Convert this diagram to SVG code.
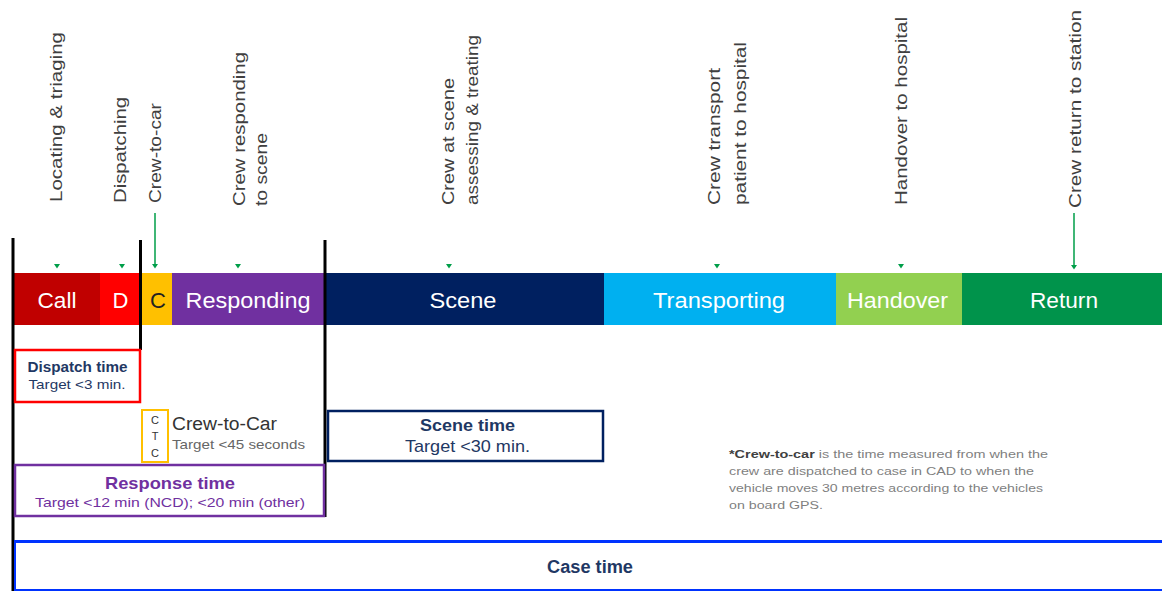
<svg xmlns="http://www.w3.org/2000/svg" width="1162" height="591" viewBox="0 0 1162 591">
<style>
  text { font-family: "Liberation Sans", Arial, sans-serif; }
  .lbl { font-size: 17px; fill: #404040; }
  .bar { font-size: 22px; fill: #ffffff; text-anchor: middle; }
  .mk { fill: #009e49; }
  .ln { stroke: #009e49; stroke-width: 1.5; fill: none; }
  .blk { stroke: #000; stroke-width: 3; }
  .box { fill: #fff; stroke-width: 2.5; }
  .ttl { font-weight: bold; text-anchor: middle; }
  .sub { text-anchor: middle; }
  .fn { font-size: 11.5px; fill: #7f7f7f; }
</style>
<rect width="1162" height="591" fill="#fff"/>

<g id="labels">
  <text class="lbl" transform="translate(62,202) rotate(-90)" textLength="170" lengthAdjust="spacingAndGlyphs">Locating &amp; triaging</text>
  <text class="lbl" transform="translate(126,203) rotate(-90)" textLength="106" lengthAdjust="spacingAndGlyphs">Dispatching</text>
  <text class="lbl" transform="translate(161,203) rotate(-90)" textLength="100" lengthAdjust="spacingAndGlyphs">Crew-to-car</text>
  <text class="lbl" transform="translate(245,206) rotate(-90)" textLength="154" lengthAdjust="spacingAndGlyphs">Crew responding</text>
  <text class="lbl" transform="translate(267,206) rotate(-90)" textLength="73" lengthAdjust="spacingAndGlyphs">to scene</text>
  <text class="lbl" transform="translate(454,205) rotate(-90)" textLength="127" lengthAdjust="spacingAndGlyphs">Crew at scene</text>
  <text class="lbl" transform="translate(478,205) rotate(-90)" textLength="170" lengthAdjust="spacingAndGlyphs">assessing &amp; treating</text>
  <text class="lbl" transform="translate(720,205) rotate(-90)" textLength="137" lengthAdjust="spacingAndGlyphs">Crew transport</text>
  <text class="lbl" transform="translate(746,205) rotate(-90)" textLength="163" lengthAdjust="spacingAndGlyphs">patient to hospital</text>
  <text class="lbl" transform="translate(907,205) rotate(-90)" textLength="188" lengthAdjust="spacingAndGlyphs">Handover to hospital</text>
  <text class="lbl" transform="translate(1081,208) rotate(-90)" textLength="198" lengthAdjust="spacingAndGlyphs">Crew return to station</text>
</g>

<g id="connectors">
  <line class="ln" x1="155" y1="213" x2="155" y2="266"/>
  <line class="ln" x1="1074" y1="213" x2="1074" y2="268"/>
  <polygon class="mk" points="54,264 60,264 57,268.5"/>
  <polygon class="mk" points="119,264 125,264 122,268.5"/>
  <polygon class="mk" points="152,264 158,264 155,268.5"/>
  <polygon class="mk" points="235,264 241,264 238,268.5"/>
  <polygon class="mk" points="446,264 452,264 449,268.5"/>
  <polygon class="mk" points="714,264 720,264 717,268.5"/>
  <polygon class="mk" points="898,264 904,264 901,268.5"/>
  <polygon class="mk" points="1071,265 1077,265 1074,269.5"/>
</g>

<g id="timeline">
  <g id="seg-call"><rect x="14" y="273" width="86" height="52" fill="#C00000"/><text class="bar" x="57" y="308" textLength="39" lengthAdjust="spacingAndGlyphs">Call</text></g>
  <g id="seg-d"><rect x="100" y="273" width="42" height="52" fill="#FF0000"/><text class="bar" x="120.5" y="308">D</text></g>
  <g id="seg-c"><rect x="142" y="273" width="30" height="52" fill="#FFC000"/><text class="bar" x="158" y="308" style="fill:#222">C</text></g>
  <g id="seg-responding"><rect x="172" y="273" width="153" height="52" fill="#7030A0"/><text class="bar" x="248" y="308" textLength="125" lengthAdjust="spacingAndGlyphs">Responding</text></g>
  <g id="seg-scene"><rect x="325" y="273" width="279" height="52" fill="#002060"/><text class="bar" x="463" y="308" textLength="67" lengthAdjust="spacingAndGlyphs">Scene</text></g>
  <g id="seg-transporting"><rect x="604" y="273" width="232" height="52" fill="#00B0F0"/><text class="bar" x="719" y="308" textLength="132" lengthAdjust="spacingAndGlyphs">Transporting</text></g>
  <g id="seg-handover"><rect x="836" y="273" width="126" height="52" fill="#92D050"/><text class="bar" x="897.5" y="308" textLength="101" lengthAdjust="spacingAndGlyphs">Handover</text></g>
  <g id="seg-return"><rect x="962" y="273" width="200" height="52" fill="#00934B"/><text class="bar" x="1064" y="308" textLength="68" lengthAdjust="spacingAndGlyphs">Return</text></g>
</g>

<g id="dividers">
  <line class="blk" x1="13" y1="238" x2="13" y2="591"/>
  <line class="blk" x1="140.5" y1="240" x2="140.5" y2="350"/>
  <line class="blk" x1="325" y1="240" x2="325" y2="517"/>
</g>

<g id="dispatch-time">
  <rect class="box" x="15" y="350" width="125" height="52" stroke="#FF0000"/>
  <text class="ttl" x="77.5" y="372" font-size="14" fill="#1F3864" textLength="100" lengthAdjust="spacingAndGlyphs">Dispatch time</text>
  <text class="sub" x="77" y="389" font-size="13" fill="#1F3864" textLength="97" lengthAdjust="spacingAndGlyphs">Target &lt;3 min.</text>
</g>

<g id="ctc">
  <rect x="142" y="410" width="26" height="52" fill="#fff" stroke="#FFC000" stroke-width="2"/>
  <text x="155" y="424" font-size="11" fill="#333" text-anchor="middle">C</text>
  <text x="155" y="440" font-size="11" fill="#333" text-anchor="middle">T</text>
  <text x="155" y="457" font-size="11" fill="#333" text-anchor="middle">C</text>
  <text x="172" y="430" font-size="18" fill="#333" textLength="105" lengthAdjust="spacingAndGlyphs">Crew-to-Car</text>
  <text x="172" y="449" font-size="13" fill="#666" textLength="133" lengthAdjust="spacingAndGlyphs">Target &lt;45 seconds</text>
</g>

<g id="response-time">
  <rect class="box" x="15" y="465" width="309" height="51" stroke="#7030A0"/>
  <text class="ttl" x="170" y="489" font-size="17" fill="#7030A0" textLength="130" lengthAdjust="spacingAndGlyphs">Response time</text>
  <text class="sub" x="170" y="507" font-size="13" fill="#7030A0" textLength="270" lengthAdjust="spacingAndGlyphs">Target &lt;12 min (NCD); &lt;20 min (other)</text>
</g>

<g id="scene-time">
  <rect class="box" x="328" y="411" width="275" height="50" stroke="#002060"/>
  <text class="ttl" x="467.5" y="431" font-size="17" fill="#1F3864" textLength="95" lengthAdjust="spacingAndGlyphs">Scene time</text>
  <text class="sub" x="467.5" y="452" font-size="17" fill="#1F3864" textLength="125" lengthAdjust="spacingAndGlyphs">Target &lt;30 min.</text>
</g>

<g id="footnote">
  <text class="fn" x="729" y="458" textLength="319" lengthAdjust="spacingAndGlyphs"><tspan font-weight="bold" fill="#404040">*Crew-to-car</tspan> is the time measured from when the</text>
  <text class="fn" x="729" y="475" textLength="305" lengthAdjust="spacingAndGlyphs">crew are dispatched to case in CAD to when the</text>
  <text class="fn" x="729" y="492" textLength="314" lengthAdjust="spacingAndGlyphs">vehicle moves 30 metres according to the vehicles</text>
  <text class="fn" x="729" y="509" textLength="94" lengthAdjust="spacingAndGlyphs">on board GPS.</text>
</g>

<g id="case-time">
  <rect x="15" y="542" width="1160" height="48" fill="#fff" stroke="#0033FF" stroke-width="2"/>
  <line x1="14" y1="541.5" x2="1162" y2="541.5" stroke="#0033FF" stroke-width="3"/>
  <text class="ttl" x="590" y="573" font-size="18" fill="#1F3864" textLength="86" lengthAdjust="spacingAndGlyphs">Case time</text>
</g>
</svg>
